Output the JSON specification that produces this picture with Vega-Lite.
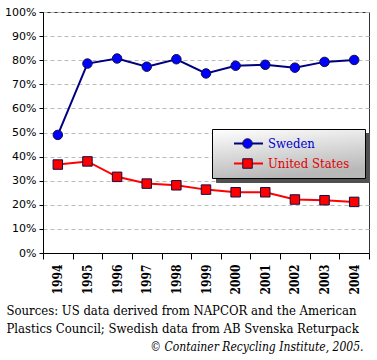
{
  "$schema": "https://vega.github.io/schema/vega-lite/v6.json",
  "width": 326,
  "height": 241,
  "autosize": "none",
  "padding": {"left": 43, "top": 12, "right": 8, "bottom": 107},
  "background": "white",
  "config": {
    "view": {"stroke": "#333333", "strokeWidth": 1},
    "title": {"font": "DejaVu Serif Condensed, DejaVu Serif", "fontSize": 12, "fontStyle": "italic", "fontWeight": "normal", "color": "#000000"}
  },
  "title": {"text": "© Container Recycling Institute, 2005.", "orient": "bottom", "anchor": "end", "offset": 7, "dx": -6},
  "data": {
    "values": [
      {"Year": "1994", "Country": "Sweden", "Rate": 0.49},
      {"Year": "1995", "Country": "Sweden", "Rate": 0.786},
      {"Year": "1996", "Country": "Sweden", "Rate": 0.807},
      {"Year": "1997", "Country": "Sweden", "Rate": 0.773},
      {"Year": "1998", "Country": "Sweden", "Rate": 0.804},
      {"Year": "1999", "Country": "Sweden", "Rate": 0.745},
      {"Year": "2000", "Country": "Sweden", "Rate": 0.777},
      {"Year": "2001", "Country": "Sweden", "Rate": 0.781},
      {"Year": "2002", "Country": "Sweden", "Rate": 0.769},
      {"Year": "2003", "Country": "Sweden", "Rate": 0.793},
      {"Year": "2004", "Country": "Sweden", "Rate": 0.801},
      {"Year": "1994", "Country": "United States", "Rate": 0.367},
      {"Year": "1995", "Country": "United States", "Rate": 0.38},
      {"Year": "1996", "Country": "United States", "Rate": 0.316},
      {"Year": "1997", "Country": "United States", "Rate": 0.288},
      {"Year": "1998", "Country": "United States", "Rate": 0.281},
      {"Year": "1999", "Country": "United States", "Rate": 0.263},
      {"Year": "2000", "Country": "United States", "Rate": 0.252},
      {"Year": "2001", "Country": "United States", "Rate": 0.252},
      {"Year": "2002", "Country": "United States", "Rate": 0.222},
      {"Year": "2003", "Country": "United States", "Rate": 0.219},
      {"Year": "2004", "Country": "United States", "Rate": 0.212}
    ]
  },
  "encoding": {
    "x": {
      "field": "Year",
      "type": "ordinal",
      "scale": {"type": "band", "paddingInner": 0, "paddingOuter": 0},
      "axis": {
        "labelAngle": 270,
        "labelFont": "DejaVu Serif Condensed, DejaVu Serif",
        "labelFontWeight": "bold",
        "labelFontSize": 12,
        "labelColor": "#000000",
        "labelPadding": 5,
        "tickBand": "extent",
        "tickSize": 6,
        "tickColor": "#000000",
        "domainColor": "#000000",
        "grid": false,
        "title": ["Sources: US data derived from NAPCOR and the  American", "Plastics Council; Swedish data from AB Svenska Returpack"],
        "titleFont": "DejaVu Serif Condensed, DejaVu Serif",
        "titleFontSize": 13,
        "titleFontWeight": "normal",
        "titleColor": "#000000",
        "titleAlign": "left",
        "titleBaseline": "alphabetic",
        "titleX": -37,
        "titleY": 61,
        "titleLineHeight": 18
      }
    },
    "y": {
      "field": "Rate",
      "type": "quantitative",
      "scale": {"domain": [0, 1], "nice": false},
      "axis": {
        "values": [0, 0.1, 0.2, 0.3, 0.4, 0.5, 0.6, 0.7, 0.8, 0.9, 1],
        "format": ".0%",
        "labelFont": "DejaVu Sans",
        "labelFontSize": 11,
        "labelColor": "#000000",
        "labelPadding": 3,
        "tickSize": 4,
        "tickColor": "#000000",
        "domainColor": "#000000",
        "gridColor": "#bbbbbb",
        "gridDash": [4, 3],
        "title": null
      }
    }
  },
  "layer": [
    {
      "mark": {"type": "point", "filled": true, "size": 1},
      "encoding": {
        "opacity": {
          "field": "Country",
          "type": "nominal",
          "scale": {"domain": ["United States", "Sweden"], "range": [0.001, 0.001]},
          "legend": {
            "orient": "none",
            "legendX": 173,
            "legendY": 121,
            "title": null,
            "padding": 7,
            "fillColor": "#505050",
            "strokeColor": "#505050",
            "symbolType": "stroke",
            "symbolSize": 841,
            "symbolStrokeWidth": 2,
            "symbolOffset": 14,
            "clipHeight": 15,
            "rowPadding": 5,
            "labelOffset": 12,
            "labelFont": "DejaVu Serif Condensed, DejaVu Serif",
            "labelFontSize": 13,
            "labelOpacity": 0
          }
        }
      }
    },
    {
      "mark": {"type": "line", "strokeWidth": 2},
      "encoding": {
        "color": {
          "field": "Country",
          "type": "nominal",
          "scale": {"domain": ["Sweden", "United States"], "range": ["#000080", "#ff0000"]},
          "legend": {
            "orient": "none",
            "legendX": 169,
            "legendY": 117,
            "title": null,
            "padding": 7,
            "fillColor": {"expr": "{gradient: 'linear', x1: 0, y1: 0, x2: 0.3, y2: 1, stops: [{offset: 0, color: '#ffffff'}, {offset: 1, color: '#b8b8b8'}]}"},
            "strokeColor": "#000000",
            "symbolType": "stroke",
            "symbolSize": 841,
            "symbolStrokeWidth": 2,
            "symbolOffset": 14,
            "clipHeight": 15,
            "rowPadding": 5,
            "labelOffset": 12,
            "labelFont": "DejaVu Serif Condensed, DejaVu Serif",
            "labelFontSize": 13,
            "labelOpacity": 0
          }
        }
      }
    },
    {
      "mark": {"type": "point", "filled": true, "size": 90, "stroke": "#101040", "strokeWidth": 1, "opacity": 1},
      "encoding": {
        "fill": {
          "field": "Country",
          "type": "nominal",
          "scale": {"range": ["#0000ff", "#ff0000"]},
          "legend": {
            "orient": "none",
            "legendX": 169,
            "legendY": 117,
            "title": null,
            "padding": 7,
            "symbolSize": 90,
            "symbolStrokeColor": "#101040",
            "symbolStrokeWidth": 1,
            "symbolOffset": 22,
            "clipHeight": 15,
            "rowPadding": 5,
            "labelOffset": 14,
            "labelFont": "DejaVu Serif Condensed, DejaVu Serif",
            "labelFontSize": 13,
            "labelColor": {"expr": "datum.label == 'Sweden' ? '#0000cc' : '#e00000'"}
          }
        },
        "shape": {
          "field": "Country",
          "type": "nominal",
          "scale": {"range": ["circle", "square"]}
        }
      }
    }
  ]
}
